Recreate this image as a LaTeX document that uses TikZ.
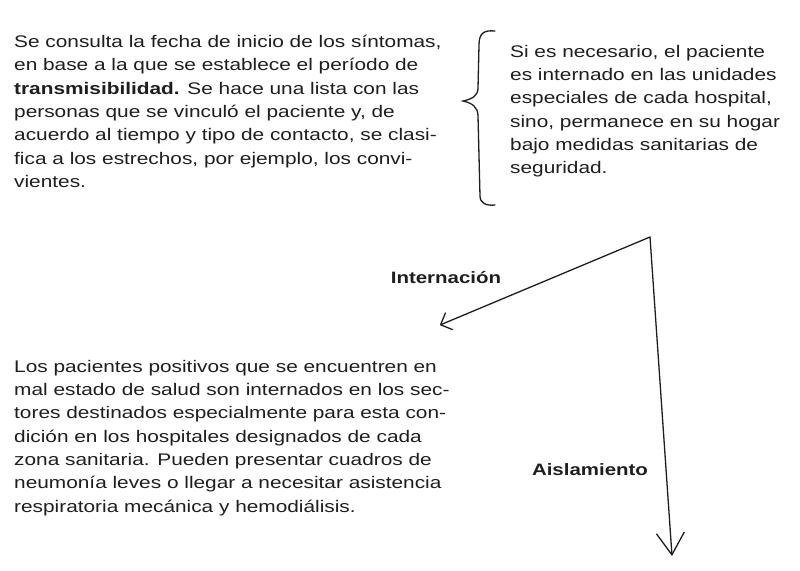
\documentclass[tikz,border=0pt]{standalone}
\usepackage{fontspec}
\setmainfont{Liberation Sans}[FakeStretch=1.24]
\usetikzlibrary{arrows.meta, positioning}
\definecolor{ink}{HTML}{1E1E1E}

\begin{document}
\begin{tikzpicture}[x=1pt, y=-1pt,
    para/.style={anchor=north west, inner sep=0pt, align=left, font=\fontsize{16.8}{23.3}\selectfont, text=ink},
    tag/.style={font=\fontsize{16.5}{19}\selectfont\bfseries, text=ink},
    conn/.style={draw=ink, line width=1.3pt, line cap=round}]
    \useasboundingbox (0,0) rectangle (800,570);

    % Texts
    \node[para] (contactos) at (14,35) {Se consulta la fecha de inicio de los síntomas,\\
        en base a la que se establece el período de\\
        \textbf{transmisibilidad.} Se hace una lista con las\\
        personas que se vinculó el paciente y, de\\
        acuerdo al tiempo y tipo de contacto, se clasi-\\
        fica a los estrechos, por ejemplo, los convi-\\
        vientes.};
    \node[para] (opciones) at (510,45) {Si es necesario, el paciente\\
        es internado en las unidades\\
        especiales de cada hospital,\\
        sino, permanece en su hogar\\
        bajo medidas sanitarias de\\
        seguridad.};
    \node[para] (internados) at (14,360) {Los pacientes positivos que se encuentren en\\
        mal estado de salud son internados en los sec-\\
        tores destinados especialmente para esta con-\\
        dición en los hospitales designados de cada\\
        zona sanitaria. Pueden presentar cuadros de\\
        neumonía leves o llegar a necesitar asistencia\\
        respiratoria mecánica y hemodiálisis.};

    % Brace
    \draw[conn] (495,31) .. controls (484,30) and (479,33) .. (479,45) -- (478,88)
        .. controls (478,96) and (472,99) .. (463,101)
        .. controls (472,103) and (478,107) .. (478,116) -- (480,196)
        .. controls (480,203) and (486,206) .. (495,205);

    % Split arrows
    \coordinate (split) at (650,237);
    \coordinate (intEnd) at (440,325);
    \coordinate (aisEnd) at (672,556);
    \draw[conn, -{Straight Barb[length=9pt, width=18pt, round]}] (split) -- (intEnd);
    \draw[conn, -{Straight Barb[length=22pt, width=28pt]}] (split) -- (aisEnd);

    \node[tag] (internacion) at (446,278) {Internación};
    \node[tag] (aislamiento) at (590,470) {Aislamiento};
\end{tikzpicture}
\end{document}
